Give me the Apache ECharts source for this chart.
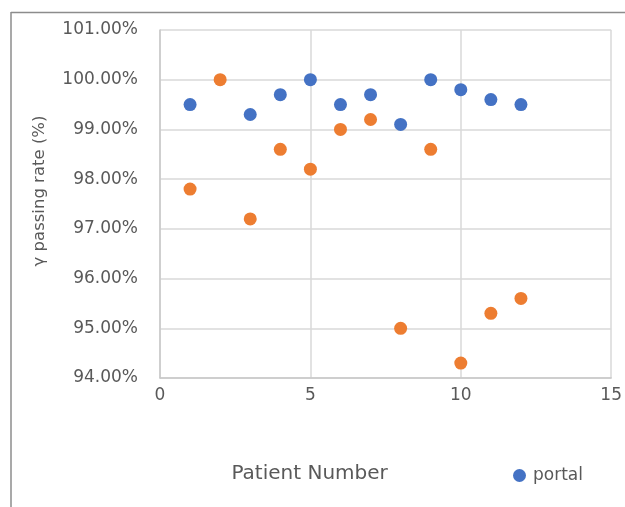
<!DOCTYPE html>
<html>
<head>
<meta charset="utf-8">
<script src="https://cdn.jsdelivr.net/npm/echarts@6/dist/echarts.min.js"></script>
<style>
  html, body { margin: 0; padding: 0; background: #fff; }
  #chart { width: 625px; height: 507px; }
</style>
</head>
<body>
<div id="chart"></div>
<script>
// Patient numbers and gamma passing rates (%)
const patients = [1, 2, 3, 4, 5, 6, 7, 8, 9, 10, 11, 12];
const portalRates = [99.5, null, 99.3, 99.7, 100.0, 99.5, 99.7, 99.1, 100.0, 99.8, 99.6, 99.5];
const otherRates = [97.8, 100.0, 97.2, 98.6, 98.2, 99.0, 99.2, 95.0, 98.6, 94.3, 95.3, 95.6];
const yTicks = { min: 94, max: 101, step: 1 };
const xTicks = { min: 0, max: 15, step: 5 };

const pairs = (xs, ys) => xs.map((x, i) => [x, ys[i]]).filter(p => p[1] !== null);

const FONT = '"DejaVu Sans", "Open Sans", sans-serif';
const TEXT = '#595959';

const chart = echarts.init(document.getElementById('chart'), null, { renderer: 'canvas' });
chart.setOption({
  animation: false,
  backgroundColor: '#ffffff',
  textStyle: { fontFamily: FONT },
  grid: { left: 160, top: 30, right: 12, bottom: 129, containLabel: false },
  legend: {
    data: ['portal'],
    left: 508, top: 462,
    icon: 'circle', itemWidth: 13, itemHeight: 13, itemGap: 4,
    textStyle: { color: TEXT, fontSize: 17, fontFamily: FONT, padding: [0, 0, 0, 2] }
  },
  xAxis: {
    type: 'value',
    min: xTicks.min, max: xTicks.max, interval: xTicks.step,
    name: 'Patient Number', nameLocation: 'middle', nameGap: 86,
    nameTextStyle: { color: TEXT, fontSize: 20, fontFamily: FONT, padding: [0, 152, 0, 0] },
    axisLine: { show: true, lineStyle: { color: '#c8c8c8', width: 1.5 } },
    axisTick: { show: false },
    axisLabel: { color: TEXT, fontSize: 17, margin: 9, fontFamily: FONT },
    splitLine: { show: true, lineStyle: { color: '#d9d9d9', width: 1.5 } }
  },
  yAxis: {
    type: 'value',
    min: yTicks.min, max: yTicks.max, interval: yTicks.step,
    name: 'γ passing rate (%)', nameLocation: 'middle', nameGap: 112,
    nameTextStyle: { color: TEXT, fontSize: 16.5, fontFamily: FONT, padding: [0, 0, 0, 26] },
    axisLine: { show: true, lineStyle: { color: '#c8c8c8', width: 1.5 } },
    axisTick: { show: false },
    axisLabel: {
      color: TEXT, fontSize: 17, margin: 22, fontFamily: FONT,
      formatter: v => v.toFixed(2) + '%'
    },
    splitLine: { show: true, lineStyle: { color: '#d9d9d9', width: 1.5 } }
  },
  series: [
    {
      name: 'portal', type: 'scatter', symbol: 'circle', symbolSize: 13,
      itemStyle: { color: '#4472C4', opacity: 1 }, z: 3,
      data: pairs(patients, portalRates)
    },
    {
      name: 'comparison', type: 'scatter', symbol: 'circle', symbolSize: 13,
      itemStyle: { color: '#ED7D31', opacity: 1 }, z: 4,
      data: pairs(patients, otherRates)
    }
  ],
  graphic: [
    // outer chart border (top and left edges)
    { type: 'line', shape: { x1: 11, y1: 12.5, x2: 625, y2: 12.5 }, style: { stroke: '#8c8c8c', lineWidth: 1.5 }, silent: true },
    { type: 'line', shape: { x1: 11, y1: 12, x2: 11, y2: 507 }, style: { stroke: '#8c8c8c', lineWidth: 1.5 }, silent: true }
  ]
});
</script>
</body>
</html>
